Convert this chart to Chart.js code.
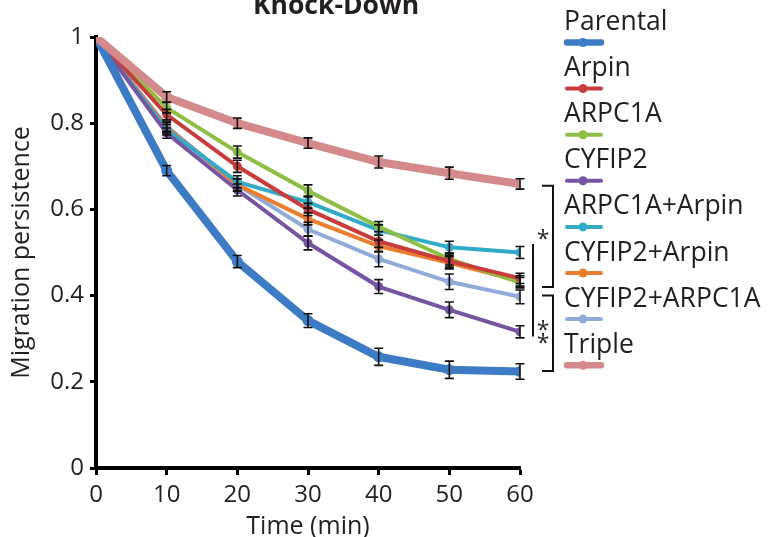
<!DOCTYPE html>
<html>
<head>
<meta charset="utf-8">
<script src="https://cdn.jsdelivr.net/npm/chart.js@4.4.0/dist/chart.umd.min.js"></script>
<style>
  html, body { margin:0; padding:0; background:#fff; }
  #wrap { width:769px; height:537px; }
</style>
</head>
<body>
<div id="wrap"><canvas id="kdChart" width="769" height="537"></canvas></div>
<script>
// time points (min)
var times = [0, 10, 20, 30, 40, 50, 60];
var yTicks = [0, 0.2, 0.4, 0.6, 0.8, 1];

var seriesNames = ['Parental', 'Arpin', 'ARPC1A', 'CYFIP2', 'ARPC1A+Arpin', 'CYFIP2+Arpin', 'CYFIP2+ARPC1A', 'Triple'];
var seriesColors = ['#3d7cc4', '#c83c3c', '#8dbf45', '#7654a2', '#31abc6', '#ea7d2e', '#91abd9', '#d48a8b'];

var parental    = [1, 0.690, 0.479, 0.342, 0.258, 0.228, 0.224];
var arpin       = [1, 0.820, 0.700, 0.600, 0.526, 0.480, 0.440];
var arpc1a      = [1, 0.836, 0.733, 0.643, 0.560, 0.485, 0.430];
var cyfip2      = [1, 0.777, 0.645, 0.522, 0.421, 0.367, 0.316];
var arpc1aArpin = [1, 0.785, 0.664, 0.617, 0.552, 0.512, 0.500];
var cyfip2Arpin = [1, 0.790, 0.657, 0.578, 0.515, 0.476, 0.434];
var cyfip2Arpc  = [1, 0.793, 0.657, 0.554, 0.485, 0.432, 0.397];
var triple      = [1, 0.861, 0.800, 0.754, 0.710, 0.684, 0.659];

// error bars (+/-)
var parentalErr    = [0, 0.012, 0.014, 0.016, 0.020, 0.020, 0.018];
var arpinErr       = [0, 0.012, 0.014, 0.014, 0.014, 0.014, 0.012];
var arpc1aErr      = [0, 0.012, 0.014, 0.014, 0.012, 0.014, 0.012];
var cyfip2Err      = [0, 0.012, 0.014, 0.016, 0.016, 0.018, 0.014];
var arpc1aArpinErr = [0, 0.012, 0.014, 0.014, 0.012, 0.014, 0.014];
var cyfip2ArpinErr = [0, 0.012, 0.014, 0.014, 0.014, 0.014, 0.012];
var cyfip2ArpcErr  = [0, 0.012, 0.014, 0.016, 0.018, 0.018, 0.016];
var tripleErr      = [0, 0.012, 0.012, 0.012, 0.014, 0.014, 0.012];

var seriesValues = [parental, arpin, arpc1a, cyfip2, arpc1aArpin, cyfip2Arpin, cyfip2Arpc, triple];
var seriesErrors = [parentalErr, arpinErr, arpc1aErr, cyfip2Err, arpc1aArpinErr, cyfip2ArpinErr, cyfip2ArpcErr, tripleErr];
var thickSeries = ['Parental', 'Triple'];

// significance brackets (value ranges at 60 min)
var brackets = [
    {top: 0.655, bottom: 0.42, label: '*'},
    {top: 0.40, bottom: 0.225, label: '**'}
];
var innerLine = {top: 0.52, bottom: 0.305};

var textColor = '#231f20';
var fontFam = '"Open Sans", "Noto Sans", sans-serif';

function buildDatasets(){
    var ds = [];
    for(let i=0; i<seriesNames.length; i++){
        let pts = [];
        for(let j=0; j<times.length; j++){
            pts.push({x: times[j], y: seriesValues[i][j]});
        }
        let thick = thickSeries.indexOf(seriesNames[i]) >= 0;
        ds.push({
            label: seriesNames[i],
            data: pts,
            borderColor: seriesColors[i],
            backgroundColor: seriesColors[i],
            borderWidth: thick ? 8 : 4,
            pointRadius: thick ? 5.5 : 4.5,
            pointBorderWidth: 0,
            tension: 0,
            order: thick ? (seriesNames[i] == 'Triple' ? 0 : 1) : 2
        });
    }
    return ds;
}

var extras = {
    id: 'extras',
    afterDatasetsDraw: function(chart){
        var ctx = chart.ctx;
        var xs = chart.scales.x, ys = chart.scales.y;
        ctx.save();
        // error bars
        ctx.strokeStyle = '#111';
        ctx.lineWidth = 1.6;
        for(let i=0; i<seriesValues.length; i++){
            for(let j=1; j<times.length; j++){
                let e = seriesErrors[i][j];
                if(!e) continue;
                let px = xs.getPixelForValue(times[j]);
                let y1 = ys.getPixelForValue(seriesValues[i][j] + e);
                let y2 = ys.getPixelForValue(seriesValues[i][j] - e);
                ctx.beginPath();
                ctx.moveTo(px, y1); ctx.lineTo(px, y2);
                ctx.moveTo(px-4.5, y1); ctx.lineTo(px+4.5, y1);
                ctx.moveTo(px-4.5, y2); ctx.lineTo(px+4.5, y2);
                ctx.stroke();
            }
        }
        // brackets
        var r = chart.chartArea.right;
        ctx.lineWidth = 2;
        ctx.strokeStyle = '#111';
        ctx.fillStyle = textColor;
        ctx.font = '23px ' + fontFam;
        ctx.textAlign = 'center';
        ctx.textBaseline = 'middle';
        brackets.forEach(function(b){
            let t = ys.getPixelForValue(b.top), bt = ys.getPixelForValue(b.bottom);
            ctx.beginPath();
            ctx.moveTo(r+22, t); ctx.lineTo(r+33, t); ctx.lineTo(r+33, bt); ctx.lineTo(r+22, bt);
            ctx.stroke();
            let mid = (t+bt)/2;
            if(b.label.length == 1){
                ctx.fillText('*', r+23, mid+4);
            } else {
                ctx.fillText('*', r+23, mid-2);
                ctx.fillText('*', r+23, mid+11);
            }
        });
        ctx.beginPath();
        ctx.moveTo(r+13, ys.getPixelForValue(innerLine.top));
        ctx.lineTo(r+13, ys.getPixelForValue(innerLine.bottom));
        ctx.stroke();

        // legend
        ctx.textAlign = 'left';
        ctx.textBaseline = 'alphabetic';
        ctx.font = '26.5px ' + fontFam;
        for(let i=0; i<seriesNames.length; i++){
            let ty = 30 + i*46.1;
            ctx.fillStyle = textColor;
            ctx.fillText(seriesNames[i], 564, ty);
            let ly = ty + 12.5;
            let thick = thickSeries.indexOf(seriesNames[i]) >= 0;
            ctx.strokeStyle = seriesColors[i];
            ctx.lineWidth = thick ? 6.5 : 4;
            ctx.lineCap = 'round';
            ctx.beginPath();
            ctx.moveTo(567, ly); ctx.lineTo(601, ly);
            ctx.stroke();
            ctx.fillStyle = seriesColors[i];
            ctx.beginPath();
            ctx.arc(583, ly, 4.5, 0, Math.PI*2);
            ctx.fill();
        }

        // clipped title
        ctx.fillStyle = textColor;
        ctx.font = 'bold 26.5px ' + fontFam;
        ctx.textAlign = 'center';
        ctx.fillText('Knock-Down', 336, 14);
        ctx.restore();
    }
};

var kdChart = new Chart(document.getElementById('kdChart'), {
    type: 'line',
    data: { datasets: buildDatasets() },
    plugins: [extras],
    options: {
        responsive: false,
        animation: false,
        layout: { padding: { left: 0, right: 249, top: 37, bottom: 0 } },
        plugins: { legend: { display: false }, tooltip: { enabled: false } },
        scales: {
            x: {
                type: 'linear', min: 0, max: 60,
                afterFit: function(s){ s.height = 69; },
                afterBuildTicks: function(s){ s.ticks = times.map(function(v){ return {value: v}; }); },
                border: { color: '#000', width: 4 },
                grid: { drawOnChartArea: false, tickLength: 7, tickWidth: 3, tickColor: '#000' },
                ticks: { color: textColor, font: { size: 24, family: fontFam }, padding: 6 },
                title: { display: true, text: 'Time (min)', color: textColor, font: { size: 25, family: fontFam }, padding: { top: 0, bottom: -5 } }
            },
            y: {
                min: 0, max: 1,
                afterFit: function(s){ s.width = 96; },
                afterBuildTicks: function(s){ s.ticks = yTicks.map(function(v){ return {value: v}; }); },
                border: { color: '#000', width: 4 },
                grid: { drawOnChartArea: false, tickLength: 6, tickWidth: 3, tickColor: '#000' },
                ticks: { color: textColor, font: { size: 24, family: fontFam }, padding: 6,
                    callback: function(v){ return String(v); } },
                title: { display: true, text: 'Migration persistence', color: textColor, font: { size: 25, family: fontFam }, padding: { top: 7, bottom: 0 } }
            }
        }
    }
});
</script>
</body>
</html>
